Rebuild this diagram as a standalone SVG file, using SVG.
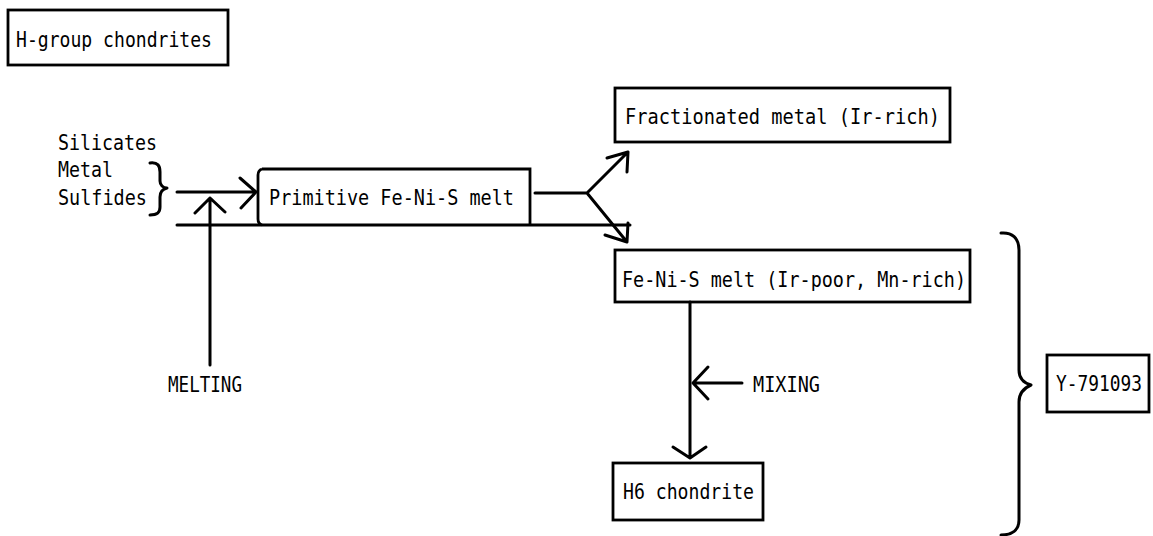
<svg xmlns="http://www.w3.org/2000/svg" width="1153" height="536" viewBox="0 0 1153 536">
<style>
text{font-family:"DejaVu Sans Mono","Liberation Mono",monospace;font-size:20.5px;fill:#000}
.box{fill:#fff;stroke:#000;stroke-width:2.8}
.ln{fill:none;stroke:#000;stroke-width:3;stroke-linecap:round;stroke-linejoin:round}
</style>
<rect width="1153" height="536" fill="#fff"/>
<g id="h-group">
<rect class="box" x="8" y="10" width="220" height="55"/>
<text x="16" y="47" textLength="196" lengthAdjust="spacingAndGlyphs">H-group chondrites</text>
</g>
<g id="inputs">
<text x="58" y="150" textLength="99" lengthAdjust="spacingAndGlyphs">Silicates</text>
<text x="58" y="177" textLength="55" lengthAdjust="spacingAndGlyphs">Metal</text>
<text x="58" y="205" textLength="89" lengthAdjust="spacingAndGlyphs">Sulfides</text>
<path class="ln" d="M150,163 C158,162 160,166 160,172 L160,181 C160,185 163,188 167,188 C163,189 160,192 160,197 L160,207 C160,213 157,215 150,215"/>
</g>
<g id="primitive">
<path class="box" d="M262,169 L530,169 L530,225 M262,169 C259,170 258,172 258,175 L258,219 C258,222 259,224 262,225"/>
<text x="269" y="205" textLength="245" lengthAdjust="spacingAndGlyphs">Primitive Fe-Ni-S melt</text>
</g>
<g id="fractionated">
<rect class="box" x="615" y="88" width="335" height="54"/>
<text x="625" y="124" textLength="315" lengthAdjust="spacingAndGlyphs">Fractionated metal (Ir-rich)</text>
</g>
<g id="fenis">
<rect class="box" x="615" y="250" width="355" height="52"/>
<text x="622" y="287" textLength="344" lengthAdjust="spacingAndGlyphs">Fe-Ni-S melt (Ir-poor, Mn-rich)</text>
</g>
<g id="h6">
<rect class="box" x="613" y="463" width="150" height="57"/>
<text x="623" y="499" textLength="131" lengthAdjust="spacingAndGlyphs">H6 chondrite</text>
</g>
<g id="y791093">
<rect class="box" x="1047" y="355" width="102" height="57"/>
<text x="1056" y="391" textLength="86" lengthAdjust="spacingAndGlyphs">Y-791093</text>
</g>
<g id="labels">
<text x="168" y="392" textLength="74" lengthAdjust="spacingAndGlyphs">MELTING</text>
<text x="753" y="392" textLength="67" lengthAdjust="spacingAndGlyphs">MIXING</text>
</g>
<g id="connectors">
<path class="ln" d="M177,192 L256,192 M240,178 L256,192 L241,208"/>
<path class="ln" d="M210,365 L210,198 M195,213 L210,198 L225,212"/>
<path class="ln" d="M177,225 L630,225"/>
<path class="ln" d="M535,193 L587,193 L628,152 M607,158 L628,152 L627,172 M587,193 L627,242 M605,235 L627,242 L628,223"/>
<path class="ln" d="M690,302 L690,458 M673,447 L690,458 L706,447"/>
<path class="ln" d="M742,383 L693,383 M708,367 L693,383 L708,399"/>
<path class="ln" d="M1001,233 C1012,232 1019,238 1019,250 L1019,370 C1019,378 1024,383 1031,385 C1024,388 1019,393 1019,402 L1019,520 C1019,530 1012,535 1001,535"/>
</g>
</svg>
